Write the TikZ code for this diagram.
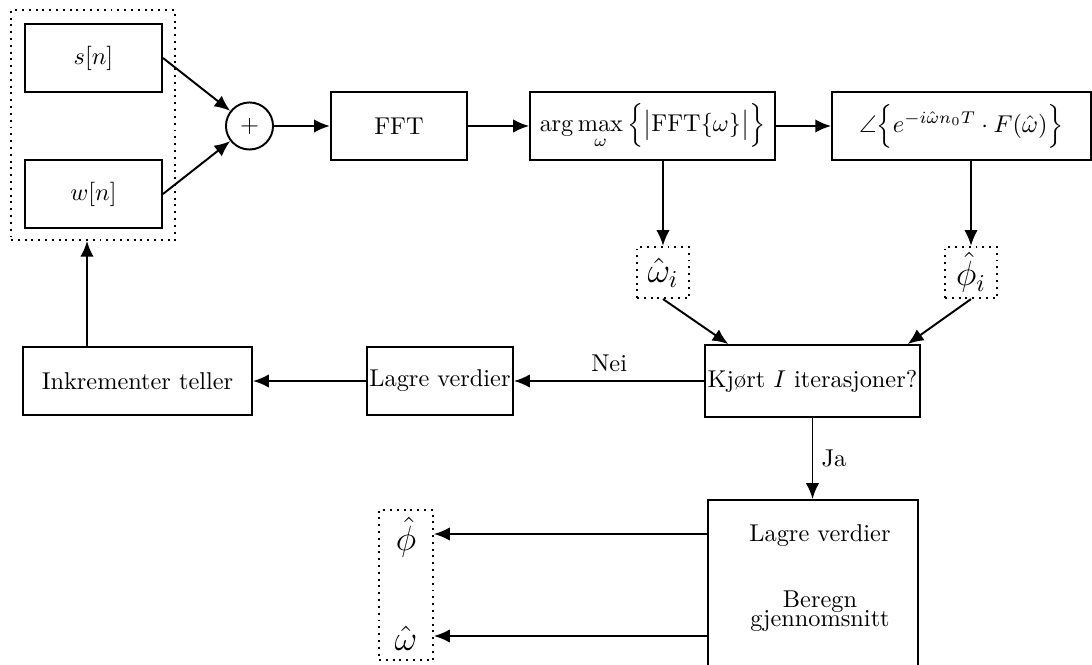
\documentclass[tikz,border=0pt]{standalone}
\usepackage{amsmath, amssymb}
\usetikzlibrary{arrows.meta, positioning, calc}

\tikzset{
  block/.style={draw, thick, inner sep=1pt, minimum height=0.98cm},
  est/.style={draw, thick, dotted, inner sep=0pt},
  arr/.style={thick, -{Latex[length=6.5pt, width=5.5pt]}}
}

\begin{document}
\begin{tikzpicture}[x=0.01445cm, y=-0.01445cm]
  \path[use as bounding box, clip] (0,0) rectangle (1092,665);

  % Signal + noise
  \node[est, minimum width=2.37cm, minimum height=3.32cm] (src) at (93,125) {};
  \node[block, minimum width=1.98cm] (sn) at (93.5,58) {$s[n]$};
  \node[block, minimum width=1.98cm] (wn) at (93.5,194) {$w[n]$};
  \node[draw, thick, circle, minimum size=0.68cm, inner sep=0pt] (sum) at (249.5,126) {$+$};

  % Top row
  \node[block, minimum width=1.97cm] (fft) at (399,126) {FFT};
  \node[block, minimum width=3.54cm] (amax) at (652.5,126)
    {$\arg\max\limits_{\omega}\Big\{\big|\mathrm{FFT}\{\omega\}\big|\Big\}$};
  \node[block, minimum width=3.74cm] (ang) at (961.5,126)
    {$\angle\Big\{e^{-i\hat{\omega} n_0 T}\cdot F(\hat{\omega})\Big\}$};

  % Estimates
  \node[est, minimum width=0.75cm, minimum height=0.74cm] (omi) at (663,272.5) {\Large$\hat{\omega}_i$};
  \node[est, minimum width=0.75cm, minimum height=0.74cm] (phii) at (971,272.5) {\Large$\hat{\phi}_i$};

  % Loop
  \node[block, minimum width=3.06cm, minimum height=1.04cm] (kjort) at (812.5,381) {Kjørt $I$ iterasjoner?};
  \node[block, minimum width=2.11cm] (lagre) at (440,381) {Lagre verdier};
  \node[block, minimum width=3.31cm] (inkr) at (137.5,381) {Inkrementer teller};

  % Final step
  \node[draw, thick, minimum width=3.03cm, minimum height=2.89cm] (final) at (813,600) {};
  \node (lagre2) at (820,536) {Lagre verdier};
  \node[align=center] (snitt) at (820,611) {Beregn\\[-4pt]gjennomsnitt};
  \node[est, minimum width=0.78cm, minimum height=2.17cm] (out) at (406,585) {};
  \node (phihat) at (406,537) {\Large$\hat{\phi}$};
  \node (omhat) at (406,638) {\Large$\hat{\omega}$};

  % Connections
  \draw[arr] (sn.east) -- (sum);
  \draw[arr] (wn.east) -- (sum);
  \draw[arr] (sum) -- (fft);
  \draw[arr] (fft) -- (amax);
  \draw[arr] (amax) -- (ang);
  \draw[arr] (amax.south -| omi) -- (omi);
  \draw[arr] (ang.south -| phii) -- (phii);
  \draw[arr] (omi.south) -- ($(kjort.north west)+(24,0)$);
  \draw[arr] (phii.south) -- ($(kjort.north east)+(-13,0)$);
  \draw[arr] (kjort) -- node[above] {Nei} (lagre);
  \draw[arr] (lagre) -- (inkr);
  \coordinate (fb) at ($(src.south)+(-6,0)$);
  \draw[arr] (inkr.north -| fb) -- (fb);
  \draw[arr] (kjort.south) -- node[right] {Ja} (kjort.south |- final.north);
  \draw[arr] (final.west |- 0,534) -- (out.east |- 0,534);
  \draw[arr] (final.west |- 0,636) -- (out.east |- 0,636);
\end{tikzpicture}
\end{document}
